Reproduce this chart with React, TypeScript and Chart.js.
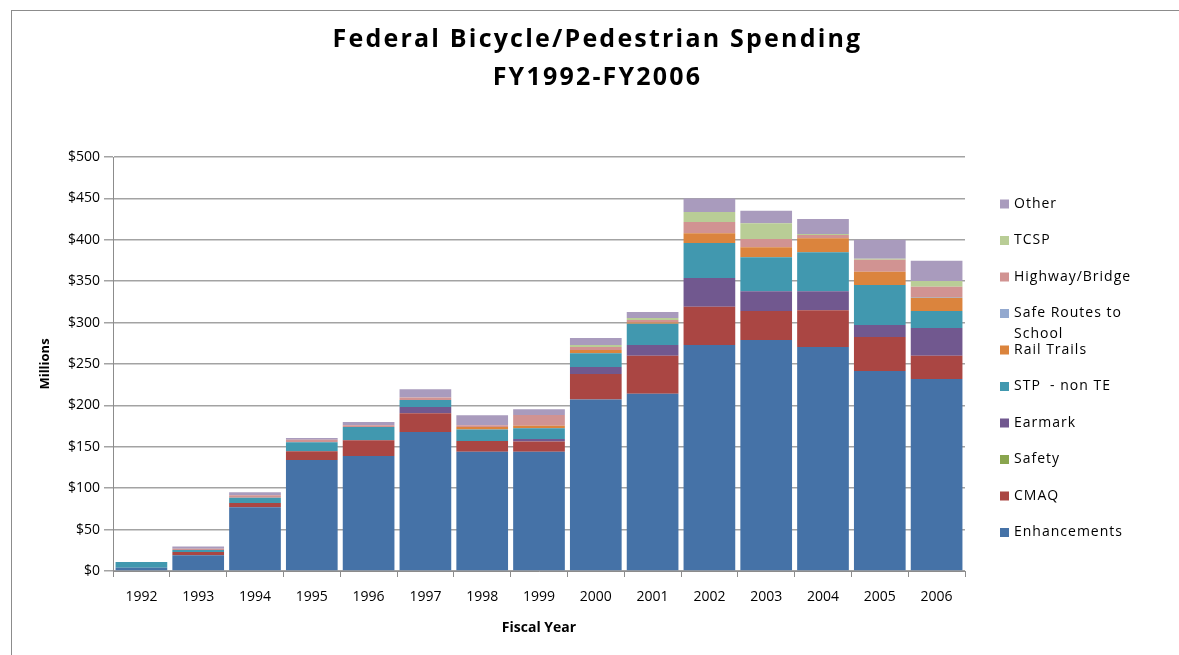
import React, { useEffect, useRef } from 'react';
import { Chart, registerables } from 'chart.js';

Chart.register(...registerables);

const years = ['1992', '1993', '1994', '1995', '1996', '1997', '1998', '1999', '2000', '2001', '2002', '2003', '2004', '2005', '2006'];

const enhancements = [4, 19, 77, 134, 139, 168, 144, 144, 207, 214, 273, 279, 270.5, 241.5, 232];
const cmaq = [0, 4, 5, 10.5, 19, 22.5, 13, 12.5, 31, 46, 46, 35, 44.5, 41, 28];
const safety = [0, 0, 0, 0, 0, 0, 0, 0, 0, 0, 0, 0, 0, 0, 0];
const earmark = [0, 0, 0, 0, 0, 7.5, 0, 3, 8.5, 13, 35, 24, 23, 14.5, 33.5];
const stpNonTE = [7, 2.5, 6.5, 11, 16, 8.5, 14, 13, 16.5, 25.7, 42, 41, 47, 48.5, 20.5];
const railTrails = [0, 0, 0, 0, 0, 0, 3, 3, 4, 1.3, 12, 12, 17, 16, 16];
const safeRoutes = [0, 0, 0, 0, 0, 0, 0, 0, 0, 0, 0, 0, 0, 0, 0.8];
const highwayBridge = [0, 1.5, 3, 3, 2, 3, 2, 13, 3.5, 3, 13.5, 10, 3.8, 14.5, 12.5];
const tcsp = [0, 0, 0, 0, 0, 0, 0, 0, 2.5, 2.6, 12, 19, 1.2, 1.2, 7];
const other = [0, 2.5, 3.5, 2, 4, 10, 12, 7, 8.5, 7.2, 16.5, 15, 18, 23, 24.5];

const yTicks = [0, 50, 100, 150, 200, 250, 300, 350, 400, 450, 500];

const titleLines = ['Federal Bicycle/Pedestrian Spending', 'FY1992-FY2006'];

const seriesNames = ['Enhancements', 'CMAQ', 'Safety', 'Earmark', 'STP  - non TE', 'Rail Trails', 'Safe Routes to School', 'Highway/Bridge', 'TCSP', 'Other'];
const seriesValues = [enhancements, cmaq, safety, earmark, stpNonTE, railTrails, safeRoutes, highwayBridge, tcsp, other];
const seriesColors = ['#4572A7', '#AA4643', '#89A54E', '#71588F', '#4198AF', '#DB843D', '#93A9CF', '#D19392', '#B9CD96', '#A99BBD'];

const FONT = '"Open Sans", "Noto Sans", Arial, sans-serif';

const titleAndLegend = {
  id: 'titleAndLegend',
  afterDraw(chart: any) {
    const { ctx, chartArea, width } = chart;

    // Title (centred on the whole canvas, with the wide letter spacing of the original)
    ctx.save();
    ctx.font = 'bold 25px ' + FONT;
    ctx.textBaseline = 'middle';
    ctx.textAlign = 'center';
    ctx.fillStyle = '#000';
    try { (ctx as any).letterSpacing = '2.2px'; } catch (e) {}
    titleLines.forEach((ln, i) => ctx.fillText(ln, width / 2 + 8, 32 + i * 38));
    ctx.restore();

    // Legend on the right, reverse order
    const ds = chart.data.datasets;
    const x0 = chartArea.right + 35;
    const y0 = chartArea.top + 47;
    const step = 36.5;
    const wrapWidth = 132;
    ctx.save();
    ctx.font = '14px ' + FONT;
    try { (ctx as any).letterSpacing = '1px'; } catch (e) {}
    ctx.textBaseline = 'middle';
    ctx.textAlign = 'left';
    for (let k = 0; k < ds.length; k++) {
      const d = ds[ds.length - 1 - k];
      const cy = y0 + k * step;
      ctx.fillStyle = d.backgroundColor;
      ctx.fillRect(x0, cy - 4.5, 9, 9);
      ctx.fillStyle = '#000';
      const words = String(d.label).split(' ');
      const lines: string[] = [];
      let cur = '';
      for (const w of words) {
        const test = cur ? cur + ' ' + w : w;
        if (cur && ctx.measureText(test).width > wrapWidth) {
          lines.push(cur);
          cur = w;
        } else {
          cur = test;
        }
      }
      if (cur) lines.push(cur);
      lines.forEach((ln, i) => ctx.fillText(ln, x0 + 14, cy + i * 21));
    }
    ctx.restore();
  },
};

export default function App() {
  const ref = useRef<HTMLCanvasElement>(null);

  useEffect(() => {
    if (!ref.current) return;
    const chart = new Chart(ref.current, {
      type: 'bar',
      data: {
        labels: years,
        datasets: seriesNames.map((name, i) => ({
          label: name,
          data: seriesValues[i],
          backgroundColor: seriesColors[i],
          borderWidth: 0,
          categoryPercentage: 1,
          barPercentage: 0.91,
        })),
      },
      options: {
        responsive: false,
        animation: false,
        layout: { padding: { top: 149, left: 0, right: 0, bottom: 0 } },
        plugins: {
          legend: { display: false },
          tooltip: { enabled: false },
          title: { display: false },
        },
        scales: {
          x: {
            stacked: true,
            offset: true,
            grid: {
              offset: true,
              drawOnChartArea: false,
              drawTicks: true,
              tickLength: 6,
              color: '#8c8c8c',
            },
            border: { display: true, color: '#8c8c8c', width: 1 },
            ticks: { color: '#000', font: { family: FONT, size: 14 }, padding: 12, maxRotation: 0, autoSkip: false },
            title: {
              display: true,
              text: 'Fiscal Year',
              color: '#000',
              font: { family: FONT, size: 14, weight: 'bold', lineHeight: 1.2 },
              padding: { top: 4, bottom: 11 },
            },
            afterFit(scale: any) {
              scale.height = 76;
            },
          },
          y: {
            stacked: true,
            min: 0,
            max: 500,
            afterBuildTicks(scale: any) {
              scale.ticks = yTicks.map((v) => ({ value: v }));
            },
            grid: {
              color: '#a3a3a3',
              lineWidth: 1.5,
              drawTicks: true,
              tickLength: 9,
            },
            border: { display: true, color: '#8c8c8c', width: 1 },
            ticks: {
              color: '#000',
              font: { family: FONT, size: 14 },
              padding: 4,
              callback: (v: any) => '$' + v,
            },
            title: {
              display: true,
              text: 'Millions',
              color: '#000',
              font: { family: FONT, size: 13, weight: 'bold', lineHeight: 1.2 },
              padding: { top: 29, bottom: 0 },
            },
            afterFit(scale: any) {
              scale.width = 105;
            },
          },
          legendSpace: {
            type: 'linear',
            position: 'right',
            display: true,
            grid: { display: false },
            border: { display: false },
            ticks: { display: false },
            afterFit(scale: any) {
              scale.width = 206;
            },
          },
        },
      },
      plugins: [titleAndLegend],
    } as any);
    return () => chart.destroy();
  }, []);

  return (
    <div style={{ position: 'relative', width: 1163, height: 639 }}>
      <div
        style={{
          position: 'fixed',
          left: 11,
          top: 10,
          width: 3000,
          height: 3000,
          borderLeft: '1px solid #8c8c8c',
          borderTop: '1px solid #8c8c8c',
        }}
      />
      <canvas ref={ref} width={1163} height={639} style={{ position: 'absolute', left: 0, top: 0 }} />
    </div>
  );
}
